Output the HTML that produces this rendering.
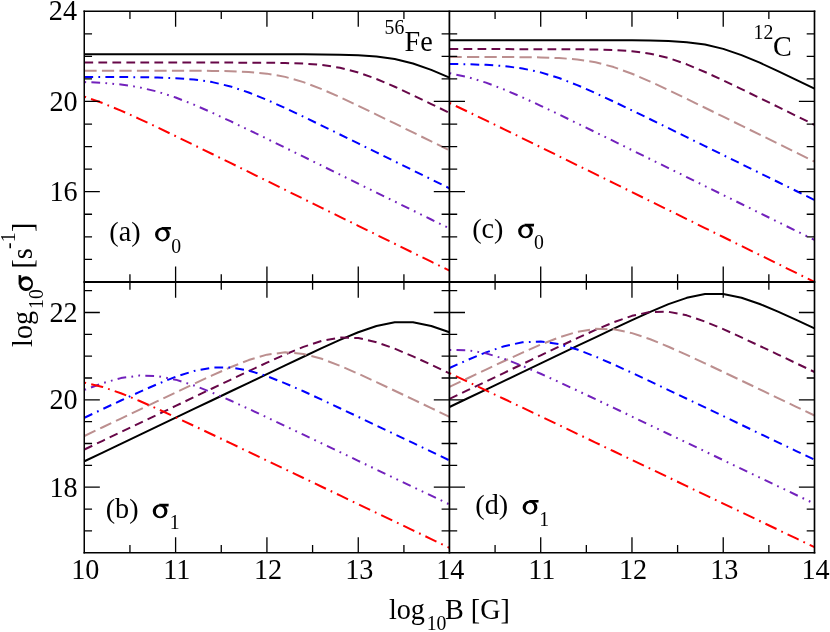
<!DOCTYPE html>
<html><head><meta charset="utf-8"><title>conductivity</title>
<style>html,body{margin:0;padding:0;background:#fff;}svg{display:block;will-change:transform;}text{font-family:"Liberation Serif",serif;}</style>
</head><body>
<svg width="830" height="632" viewBox="0 0 830 632">
<rect width="830" height="632" fill="#fff"/>
<defs>
<clipPath id="ca"><rect x="84.25" y="11.25" width="365.15" height="270.8"/></clipPath>
<clipPath id="cb"><rect x="84.25" y="282.05" width="365.15" height="270.7"/></clipPath>
<clipPath id="cc"><rect x="449.4" y="11.25" width="365.1" height="270.8"/></clipPath>
<clipPath id="cd"><rect x="449.4" y="282.05" width="365.1" height="270.7"/></clipPath>
</defs>
<g clip-path="url(#ca)" fill="none" stroke-width="2" stroke-linejoin="round">
<path d="M84.40,54.28 L102.65,54.28 L120.91,54.28 L139.16,54.28 L157.42,54.28 L175.68,54.28 L193.93,54.28 L212.19,54.28 L230.44,54.28 L248.70,54.28 L266.95,54.29 L285.20,54.30 L303.46,54.34 L321.71,54.43 L339.97,54.66 L358.23,55.21 L376.48,56.46 L394.74,59.05 L412.99,63.54 L431.25,69.93 L449.50,77.66" stroke="#000000"/>
<path d="M84.40,62.59 L102.65,62.59 L120.91,62.59 L139.16,62.59 L157.42,62.59 L175.68,62.59 L193.93,62.59 L212.19,62.60 L230.44,62.61 L248.70,62.65 L266.95,62.75 L285.20,63.00 L303.46,63.60 L321.71,64.96 L339.97,67.71 L358.23,72.41 L376.48,78.97 L394.74,86.78 L412.99,95.26 L431.25,104.03 L449.50,112.93" stroke="#670748" stroke-dasharray="8.75 5.25"/>
<path d="M84.40,70.67 L102.65,70.67 L120.91,70.67 L139.16,70.67 L157.42,70.68 L175.68,70.70 L193.93,70.75 L212.19,70.88 L230.44,71.20 L248.70,71.96 L266.95,73.63 L285.20,76.88 L303.46,82.13 L321.71,89.10 L339.97,97.15 L358.23,105.74 L376.48,114.55 L394.74,123.47 L412.99,132.42 L431.25,141.39 L449.50,150.37" stroke="#BC8F8F" stroke-dasharray="12.25 5.25"/>
<path d="M84.40,76.97 L102.65,77.00 L120.91,77.06 L139.16,77.19 L157.42,77.49 L175.68,78.14 L193.93,79.50 L212.19,82.10 L230.44,86.41 L248.70,92.48 L266.95,99.89 L285.20,108.11 L303.46,116.74 L321.71,125.57 L339.97,134.48 L358.23,143.43 L376.48,152.40 L394.74,161.37 L412.99,170.35 L431.25,179.33 L449.50,188.31" stroke="#0000FF" stroke-dasharray="8.75 5.25 1.75 5.25 8.75 5.25"/>
<path d="M84.40,82.05 L102.65,82.89 L120.91,84.49 L139.16,87.27 L157.42,91.60 L175.68,97.51 L193.93,104.69 L212.19,112.71 L230.44,121.20 L248.70,129.94 L266.95,138.80 L285.20,147.72 L303.46,156.68 L321.71,165.64 L339.97,174.62 L358.23,183.59 L376.48,192.57 L394.74,201.55 L412.99,210.53 L431.25,219.51 L449.50,228.49" stroke="#7221BC" stroke-dasharray="1.75 5.25 8.75 5.25 1.75 5.25"/>
<path d="M84.40,96.72 L102.65,103.09 L120.91,110.59 L139.16,118.80 L157.42,127.39 L175.68,136.18 L193.93,145.06 L212.19,154.00 L230.44,162.96 L248.70,171.93 L266.95,180.90 L285.20,189.88 L303.46,198.86 L321.71,207.84 L339.97,216.82 L358.23,225.80 L376.48,234.78 L394.74,243.76 L412.99,252.74 L431.25,261.72 L449.50,270.70" stroke="#FF0000" stroke-dasharray="1.75 5.25 12.25 5.25"/>
</g>
<g clip-path="url(#cb)" fill="none" stroke-width="2" stroke-linejoin="round">
<path d="M84.40,461.28 L102.65,452.56 L120.91,443.84 L139.16,435.12 L157.42,426.40 L175.68,417.68 L193.93,408.96 L212.19,400.24 L230.44,391.52 L248.70,382.80 L266.95,374.09 L285.20,365.40 L303.46,356.76 L321.71,348.21 L339.97,339.94 L358.23,332.28 L376.48,326.00 L394.74,322.30 L412.99,322.30 L431.25,326.00 L449.50,332.28" stroke="#000000"/>
<path d="M84.40,449.50 L102.65,440.78 L120.91,432.06 L139.16,423.34 L157.42,414.63 L175.68,405.91 L193.93,397.19 L212.19,388.49 L230.44,379.80 L248.70,371.16 L266.95,362.64 L285.20,354.41 L303.46,346.88 L321.71,340.85 L339.97,337.56 L358.23,338.05 L376.48,342.15 L394.74,348.66 L412.99,356.42 L431.25,364.75 L449.50,373.31" stroke="#670748" stroke-dasharray="8.75 5.25"/>
<path d="M84.40,435.99 L102.65,427.27 L120.91,418.55 L139.16,409.84 L157.42,401.14 L175.68,392.46 L193.93,383.84 L212.19,375.38 L230.44,367.29 L248.70,360.06 L266.95,354.65 L285.20,352.34 L303.46,353.90 L321.71,358.80 L339.97,365.75 L358.23,373.72 L376.48,382.13 L394.74,390.73 L412.99,399.40 L431.25,408.10 L449.50,416.81" stroke="#BC8F8F" stroke-dasharray="12.25 5.25"/>
<path d="M84.40,417.73 L102.65,409.08 L120.91,400.51 L139.16,392.11 L157.42,384.08 L175.68,376.82 L193.93,371.01 L212.19,367.62 L230.44,367.45 L248.70,370.55 L266.95,376.16 L285.20,383.31 L303.46,391.28 L321.71,399.66 L339.97,408.22 L358.23,416.86 L376.48,425.55 L394.74,434.26 L412.99,442.97 L431.25,451.69 L449.50,460.41" stroke="#0000FF" stroke-dasharray="8.75 5.25 1.75 5.25 8.75 5.25"/>
<path d="M84.40,389.91 L102.65,383.16 L120.91,378.09 L139.16,375.56 L157.42,376.13 L175.68,379.67 L193.93,385.44 L212.19,392.60 L230.44,400.54 L248.70,408.88 L266.95,417.41 L285.20,426.04 L303.46,434.72 L321.71,443.42 L339.97,452.13 L358.23,460.84 L376.48,469.56 L394.74,478.28 L412.99,487.00 L431.25,495.72 L449.50,504.44" stroke="#7221BC" stroke-dasharray="1.75 5.25 8.75 5.25 1.75 5.25"/>
<path d="M84.40,382.64 L102.65,386.98 L120.91,393.28 L139.16,400.75 L157.42,408.85 L175.68,417.26 L193.93,425.83 L212.19,434.48 L230.44,443.17 L248.70,451.87 L266.95,460.59 L285.20,469.30 L303.46,478.02 L321.71,486.74 L339.97,495.46 L358.23,504.18 L376.48,512.90 L394.74,521.62 L412.99,530.34 L431.25,539.06 L449.50,547.78" stroke="#FF0000" stroke-dasharray="1.75 5.25 12.25 5.25"/>
</g>
<g clip-path="url(#cc)" fill="none" stroke-width="2" stroke-linejoin="round">
<path d="M449.50,40.14 L467.75,40.14 L486.00,40.14 L504.25,40.14 L522.50,40.14 L540.75,40.14 L559.00,40.14 L577.25,40.14 L595.50,40.16 L613.75,40.19 L632.00,40.28 L650.25,40.48 L668.50,40.99 L686.75,42.15 L705.00,44.57 L723.25,48.85 L741.50,55.08 L759.75,62.70 L778.00,71.08 L796.25,79.82 L814.50,88.70" stroke="#000000"/>
<path d="M449.50,49.12 L467.75,49.12 L486.00,49.12 L504.25,49.12 L522.50,49.13 L540.75,49.14 L559.00,49.17 L577.25,49.26 L595.50,49.47 L613.75,49.99 L632.00,51.19 L650.25,53.66 L668.50,58.02 L686.75,64.31 L705.00,71.97 L723.25,80.37 L741.50,89.10 L759.75,97.99 L778.00,106.93 L796.25,115.89 L814.50,124.87" stroke="#670748" stroke-dasharray="8.75 5.25"/>
<path d="M449.50,56.98 L467.75,56.98 L486.00,57.00 L504.25,57.04 L522.50,57.15 L540.75,57.41 L559.00,58.03 L577.25,59.44 L595.50,62.29 L613.75,67.08 L632.00,73.72 L650.25,81.58 L668.50,90.08 L686.75,98.86 L705.00,107.76 L723.25,116.71 L741.50,125.68 L759.75,134.65 L778.00,143.63 L796.25,152.61 L814.50,161.59" stroke="#BC8F8F" stroke-dasharray="12.25 5.25"/>
<path d="M449.50,63.95 L467.75,64.24 L486.00,64.86 L504.25,66.11 L522.50,68.46 L540.75,72.38 L559.00,78.03 L577.25,85.10 L595.50,93.10 L613.75,101.61 L632.00,110.37 L650.25,119.24 L668.50,128.18 L686.75,137.14 L705.00,146.11 L723.25,155.08 L741.50,164.06 L759.75,173.04 L778.00,182.02 L796.25,191.00 L814.50,199.98" stroke="#0000FF" stroke-dasharray="8.75 5.25 1.75 5.25 8.75 5.25"/>
<path d="M449.50,73.19 L467.75,77.11 L486.00,82.65 L504.25,89.55 L522.50,97.40 L540.75,105.80 L559.00,114.49 L577.25,123.33 L595.50,132.24 L613.75,141.19 L632.00,150.16 L650.25,159.13 L668.50,168.10 L686.75,177.08 L705.00,186.06 L723.25,195.04 L741.50,204.02 L759.75,213.00 L778.00,221.98 L796.25,230.96 L814.50,239.94" stroke="#7221BC" stroke-dasharray="1.75 5.25 8.75 5.25 1.75 5.25"/>
<path d="M449.50,102.99 L467.75,111.63 L486.00,120.44 L504.25,129.34 L522.50,138.28 L540.75,147.24 L559.00,156.21 L577.25,165.19 L595.50,174.16 L613.75,183.14 L632.00,192.12 L650.25,201.10 L668.50,210.08 L686.75,219.06 L705.00,228.04 L723.25,237.02 L741.50,246.00 L759.75,254.98 L778.00,263.96 L796.25,272.94 L814.50,281.92" stroke="#FF0000" stroke-dasharray="1.75 5.25 12.25 5.25"/>
</g>
<g clip-path="url(#cd)" fill="none" stroke-width="2" stroke-linejoin="round">
<path d="M449.50,406.99 L467.75,398.27 L486.00,389.55 L504.25,380.83 L522.50,372.12 L540.75,363.40 L559.00,354.68 L577.25,345.97 L595.50,337.28 L613.75,328.63 L632.00,320.09 L650.25,311.80 L668.50,304.14 L686.75,297.83 L705.00,294.09 L723.25,294.04 L741.50,297.70 L759.75,303.96 L778.00,311.60 L796.25,319.88 L814.50,328.42" stroke="#000000"/>
<path d="M449.50,398.93 L467.75,390.21 L486.00,381.49 L504.25,372.78 L522.50,364.07 L540.75,355.37 L559.00,346.72 L577.25,338.17 L595.50,329.88 L613.75,322.18 L632.00,315.82 L650.25,311.97 L668.50,311.79 L686.75,315.35 L705.00,321.54 L723.25,329.15 L741.50,337.41 L759.75,345.95 L778.00,354.59 L796.25,363.28 L814.50,371.99" stroke="#670748" stroke-dasharray="8.75 5.25"/>
<path d="M449.50,386.96 L467.75,378.26 L486.00,369.61 L504.25,361.02 L522.50,352.62 L540.75,344.60 L559.00,337.39 L577.25,331.79 L595.50,328.84 L613.75,329.33 L632.00,333.11 L650.25,339.26 L668.50,346.74 L686.75,354.90 L705.00,363.37 L723.25,371.98 L741.50,380.65 L759.75,389.35 L778.00,398.06 L796.25,406.78 L814.50,415.50" stroke="#BC8F8F" stroke-dasharray="12.25 5.25"/>
<path d="M449.50,368.01 L467.75,359.87 L486.00,352.38 L504.25,346.21 L522.50,342.29 L540.75,341.55 L559.00,344.20 L577.25,349.55 L595.50,356.58 L613.75,364.50 L632.00,372.85 L650.25,381.40 L668.50,390.05 L686.75,398.74 L705.00,407.44 L723.25,416.16 L741.50,424.87 L759.75,433.59 L778.00,442.31 L796.25,451.03 L814.50,459.75" stroke="#0000FF" stroke-dasharray="8.75 5.25 1.75 5.25 8.75 5.25"/>
<path d="M449.50,350.00 L467.75,350.16 L486.00,353.34 L504.25,358.87 L522.50,365.89 L540.75,373.76 L559.00,382.06 L577.25,390.57 L595.50,399.19 L613.75,407.87 L632.00,416.56 L650.25,425.27 L668.50,433.99 L686.75,442.70 L705.00,451.42 L723.25,460.14 L741.50,468.86 L759.75,477.58 L778.00,486.30 L796.25,495.02 L814.50,503.74" stroke="#7221BC" stroke-dasharray="1.75 5.25 8.75 5.25 1.75 5.25"/>
<path d="M449.50,373.21 L467.75,381.70 L486.00,390.31 L504.25,398.98 L522.50,407.67 L540.75,416.38 L559.00,425.09 L577.25,433.81 L595.50,442.53 L613.75,451.25 L632.00,459.97 L650.25,468.69 L668.50,477.41 L686.75,486.13 L705.00,494.85 L723.25,503.57 L741.50,512.29 L759.75,521.01 L778.00,529.73 L796.25,538.45 L814.50,547.17" stroke="#FF0000" stroke-dasharray="1.75 5.25 12.25 5.25"/>
</g>
<g stroke="#000" fill="none">
<g stroke-linecap="butt">
<path stroke-width="1.5" d="M84.25,10.5 V553.5"/>
<path stroke-width="1.75" d="M449.4,10.5 V553.5"/>
<path stroke-width="1.65" d="M814.5,10.5 V553.5"/>
<path stroke-width="1.5" d="M83.5,11.25 H815.32"/>
<path stroke-width="1.95" d="M83.5,282.05 H815.32"/>
<path stroke-width="1.5" d="M83.5,552.75 H815.32"/>
</g>
<path stroke-width="1.3" d="M129.94,11.25 v7.8 M129.94,274.25 v15.6 M129.94,552.75 v-7.8 M175.60,11.25 v15.6 M175.60,266.45 v31.2 M175.60,552.75 v-15.6 M221.26,11.25 v7.8 M221.26,274.25 v15.6 M221.26,552.75 v-7.8 M266.93,11.25 v15.6 M266.93,266.45 v31.2 M266.93,552.75 v-15.6 M312.59,11.25 v7.8 M312.59,274.25 v15.6 M312.59,552.75 v-7.8 M358.26,11.25 v15.6 M358.26,266.45 v31.2 M358.26,552.75 v-15.6 M403.92,11.25 v7.8 M403.92,274.25 v15.6 M403.92,552.75 v-7.8 M495.08,11.25 v7.8 M495.08,274.25 v15.6 M495.08,552.75 v-7.8 M540.71,11.25 v15.6 M540.71,266.45 v31.2 M540.71,552.75 v-15.6 M586.34,11.25 v7.8 M586.34,274.25 v15.6 M586.34,552.75 v-7.8 M631.97,11.25 v15.6 M631.97,266.45 v31.2 M631.97,552.75 v-15.6 M677.60,11.25 v7.8 M677.60,274.25 v15.6 M677.60,552.75 v-7.8 M723.23,11.25 v15.6 M723.23,266.45 v31.2 M723.23,552.75 v-15.6 M768.86,11.25 v7.8 M768.86,274.25 v15.6 M768.86,552.75 v-7.8 M84.25,259.37 h7.8 M441.59999999999997,259.37 h15.6 M814.5,259.37 h-7.8 M84.25,236.81 h7.8 M441.59999999999997,236.81 h15.6 M814.5,236.81 h-7.8 M84.25,214.25 h7.8 M441.59999999999997,214.25 h15.6 M814.5,214.25 h-7.8 M84.25,191.70 h15.6 M433.79999999999995,191.70 h31.2 M814.5,191.70 h-15.6 M84.25,169.14 h7.8 M441.59999999999997,169.14 h15.6 M814.5,169.14 h-7.8 M84.25,146.59 h7.8 M441.59999999999997,146.59 h15.6 M814.5,146.59 h-7.8 M84.25,124.03 h7.8 M441.59999999999997,124.03 h15.6 M814.5,124.03 h-7.8 M84.25,101.47 h15.6 M433.79999999999995,101.47 h31.2 M814.5,101.47 h-15.6 M84.25,78.92 h7.8 M441.59999999999997,78.92 h15.6 M814.5,78.92 h-7.8 M84.25,56.36 h7.8 M441.59999999999997,56.36 h15.6 M814.5,56.36 h-7.8 M84.25,33.81 h7.8 M441.59999999999997,33.81 h15.6 M814.5,33.81 h-7.8 M84.25,530.88 h7.8 M441.59999999999997,530.88 h15.6 M814.5,530.88 h-7.8 M84.25,509.04 h7.8 M441.59999999999997,509.04 h15.6 M814.5,509.04 h-7.8 M84.25,487.20 h15.6 M433.79999999999995,487.20 h31.2 M814.5,487.20 h-15.6 M84.25,465.36 h7.8 M441.59999999999997,465.36 h15.6 M814.5,465.36 h-7.8 M84.25,443.52 h7.8 M441.59999999999997,443.52 h15.6 M814.5,443.52 h-7.8 M84.25,421.69 h7.8 M441.59999999999997,421.69 h15.6 M814.5,421.69 h-7.8 M84.25,399.85 h15.6 M433.79999999999995,399.85 h31.2 M814.5,399.85 h-15.6 M84.25,378.01 h7.8 M441.59999999999997,378.01 h15.6 M814.5,378.01 h-7.8 M84.25,356.18 h7.8 M441.59999999999997,356.18 h15.6 M814.5,356.18 h-7.8 M84.25,334.34 h7.8 M441.59999999999997,334.34 h15.6 M814.5,334.34 h-7.8 M84.25,312.50 h15.6 M433.79999999999995,312.50 h31.2 M814.5,312.50 h-15.6 M84.25,290.66 h7.8 M441.59999999999997,290.66 h15.6 M814.5,290.66 h-7.8"/>
</g>
<g font-family="'Liberation Serif', serif" fill="#000">
<text transform="translate(77.00,20.05) scale(1,1.035)" font-size="28.2" text-anchor="end">24</text>
<text transform="translate(77.60,110.87) scale(1,1.035)" font-size="28.2" text-anchor="end">20</text>
<text transform="translate(77.60,201.10) scale(1,1.035)" font-size="28.2" text-anchor="end">16</text>
<text transform="translate(77.60,321.90) scale(1,1.035)" font-size="28.2" text-anchor="end">22</text>
<text transform="translate(77.60,409.25) scale(1,1.035)" font-size="28.2" text-anchor="end">20</text>
<text transform="translate(77.60,496.60) scale(1,1.035)" font-size="28.2" text-anchor="end">18</text>
<text transform="translate(85.37,579.00) scale(1,1.035)" font-size="28.2" text-anchor="middle">10</text>
<text transform="translate(176.70,579.00) scale(1,1.035)" font-size="28.2" text-anchor="middle">11</text>
<text transform="translate(268.03,579.00) scale(1,1.035)" font-size="28.2" text-anchor="middle">12</text>
<text transform="translate(359.36,579.00) scale(1,1.035)" font-size="28.2" text-anchor="middle">13</text>
<text transform="translate(450.29,579.00) scale(1,1.035)" font-size="28.2" text-anchor="middle">14</text>
<text transform="translate(541.81,579.00) scale(1,1.035)" font-size="28.2" text-anchor="middle">11</text>
<text transform="translate(633.07,579.00) scale(1,1.035)" font-size="28.2" text-anchor="middle">12</text>
<text transform="translate(724.33,579.00) scale(1,1.035)" font-size="28.2" text-anchor="middle">13</text>
<text transform="translate(815.59,579.00) scale(1,1.035)" font-size="28.2" text-anchor="middle">14</text>
<text transform="translate(388.90,619.00) scale(1,1.035)" font-size="28.2">log</text><text transform="translate(426.70,629.60) scale(1,1.035)" font-size="19.75">10</text><text transform="translate(445.00,619.00) scale(1,1.035)" font-size="28.2">B [G]</text>
<g transform="translate(32.3,346.9) rotate(-90)"><text transform="translate(0.00,0.00) scale(1,1.035)" font-size="28.2">log</text><text transform="translate(38.00,10.80) scale(1,1.035)" font-size="19.75">10</text><g transform="translate(55.90,0.60)"><path fill-rule="evenodd" d="M7.3,-13.9 A7.3,6.95 0 1 0 7.3,0.1 A7.3,6.95 0 1 0 7.3,-13.9 Z M7.3,-11.6 A4.2,5.0 0 1 1 7.3,-1.6 A4.2,5.0 0 1 1 7.3,-11.6 Z"/><path d="M6.2,-14.3 H15.9 L15.7,-11.7 H8 Z"/></g><text transform="translate(78.30,0.00) scale(1,1.035)" font-size="28.2">[s</text><text transform="translate(98.00,-17.00) scale(1,1.035)" font-size="19.75">-1</text><text transform="translate(114.80,0.00) scale(1,1.035)" font-size="28.2">]</text></g>
<text transform="translate(109.30,240.70) scale(1,0.95)" font-size="28.2">(</text>
<text transform="translate(118.69,240.70) scale(1,1.035)" font-size="28.2">a</text>
<text transform="translate(131.21,240.70) scale(1,0.95)" font-size="28.2">)</text>
<g transform="translate(155.10,241.30)"><path fill-rule="evenodd" d="M7.3,-13.9 A7.3,6.95 0 1 0 7.3,0.1 A7.3,6.95 0 1 0 7.3,-13.9 Z M7.3,-11.6 A4.2,5.0 0 1 1 7.3,-1.6 A4.2,5.0 0 1 1 7.3,-11.6 Z"/><path d="M6.2,-14.3 H15.9 L15.7,-11.7 H8 Z"/></g>
<text transform="translate(171.30,252.70) scale(1,1.035)" font-size="19.75">0</text>
<text transform="translate(105.70,517.50) scale(1,0.95)" font-size="28.2">(</text>
<text transform="translate(115.09,517.50) scale(1,1.035)" font-size="28.2">b</text>
<text transform="translate(129.19,517.50) scale(1,0.95)" font-size="28.2">)</text>
<g transform="translate(152.80,518.10)"><path fill-rule="evenodd" d="M7.3,-13.9 A7.3,6.95 0 1 0 7.3,0.1 A7.3,6.95 0 1 0 7.3,-13.9 Z M7.3,-11.6 A4.2,5.0 0 1 1 7.3,-1.6 A4.2,5.0 0 1 1 7.3,-11.6 Z"/><path d="M6.2,-14.3 H15.9 L15.7,-11.7 H8 Z"/></g>
<text transform="translate(169.80,528.80) scale(1,1.035)" font-size="19.75">1</text>
<text transform="translate(472.20,237.50) scale(1,0.95)" font-size="28.2">(</text>
<text transform="translate(481.59,237.50) scale(1,1.035)" font-size="28.2">c</text>
<text transform="translate(494.11,237.50) scale(1,0.95)" font-size="28.2">)</text>
<g transform="translate(518.20,238.10)"><path fill-rule="evenodd" d="M7.3,-13.9 A7.3,6.95 0 1 0 7.3,0.1 A7.3,6.95 0 1 0 7.3,-13.9 Z M7.3,-11.6 A4.2,5.0 0 1 1 7.3,-1.6 A4.2,5.0 0 1 1 7.3,-11.6 Z"/><path d="M6.2,-14.3 H15.9 L15.7,-11.7 H8 Z"/></g>
<text transform="translate(534.10,248.50) scale(1,1.035)" font-size="19.75">0</text>
<text transform="translate(475.30,513.70) scale(1,0.95)" font-size="28.2">(</text>
<text transform="translate(484.69,513.70) scale(1,1.035)" font-size="28.2">d</text>
<text transform="translate(498.79,513.70) scale(1,0.95)" font-size="28.2">)</text>
<g transform="translate(522.70,514.30)"><path fill-rule="evenodd" d="M7.3,-13.9 A7.3,6.95 0 1 0 7.3,0.1 A7.3,6.95 0 1 0 7.3,-13.9 Z M7.3,-11.6 A4.2,5.0 0 1 1 7.3,-1.6 A4.2,5.0 0 1 1 7.3,-11.6 Z"/><path d="M6.2,-14.3 H15.9 L15.7,-11.7 H8 Z"/></g>
<text transform="translate(539.30,525.70) scale(1,1.035)" font-size="19.75">1</text>
<text transform="translate(384.60,33.70) scale(1,1.035)" font-size="19.75">56</text><text transform="translate(404.50,50.80) scale(1,1.035)" font-size="28.2">Fe</text>
<text transform="translate(753.60,38.60) scale(1,1.035)" font-size="19.75">12</text><text transform="translate(773.00,55.70) scale(1,1.035)" font-size="28.2">C</text>
</g>
</svg>
</body></html>
